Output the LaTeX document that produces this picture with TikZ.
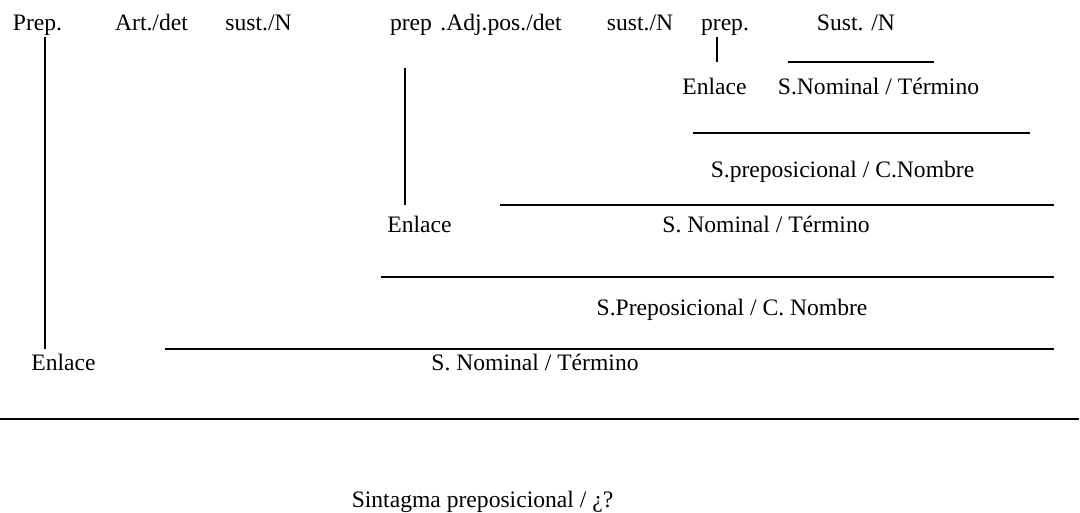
\documentclass[tikz,border=0pt]{standalone}
\usepackage{fontspec}
\setmainfont{Liberation Serif}
\begin{document}
\begin{tikzpicture}[x=0.5pt,y=-0.5pt,
  txt/.style={inner sep=0pt, anchor=base, font=\fontsize{11.8}{14}\selectfont},
  ln/.style={line width=1pt}]
\useasboundingbox (0,0) rectangle (1080,513);
% row 1
\node[txt] (prepA) at (37.5,31) {Prep.};
\node[txt] (art)   at (151.5,31) {Art./det};
\node[txt] (sustA) at (258.5,31) {sust./N};
\node[txt] (prepB) at (411,31) {prep};
\node[txt, anchor=base west] (adj) at (440,31) {.Adj.pos./det};
\node[txt] (sustB) at (640,31) {sust./N};
\node[txt] (prepC) at (725,31) {prep.};
\node[txt] (sustC) at (856,31) {Sust. /N};
% row 2
\node[txt] (enlC) at (714.5,95) {Enlace};
\node[txt] (snC)  at (878.5,95) {S.Nominal / Término};
% row 3
\node[txt] (spB) at (842.5,178) {S.preposicional / C.Nombre};
% row 4
\node[txt] (enlB) at (419.5,233) {Enlace};
\node[txt] (snB)  at (766,233) {S. Nominal / Término};
% row 5
\node[txt] (spA) at (732,315) {S.Preposicional / C. Nombre};
% row 6
\node[txt] (enlA) at (63.5,370) {Enlace};
\node[txt] (snA)  at (535,370) {S. Nominal / Término};
% row 7
\node[txt] (sp0) at (482.5,507) {Sintagma preposicional / ¿?};
% line ends
\coordinate (v1t) at (45,37);   \coordinate (v1b) at (45,349);
\coordinate (v2t) at (405,68);  \coordinate (v2b) at (405,205);
\coordinate (v3t) at (717,37);  \coordinate (v3b) at (717,62);
\coordinate (h1a) at (788,62);  \coordinate (h1b) at (934,62);
\coordinate (h2a) at (693,133); \coordinate (h2b) at (1030,133);
\coordinate (h3a) at (500,205); \coordinate (h3b) at (1054,205);
\coordinate (h4a) at (381,277); \coordinate (h4b) at (1054,277);
\coordinate (h5a) at (165,349); \coordinate (h5b) at (1054,349);
\coordinate (h6a) at (0,419);   \coordinate (h6b) at (1079,419);
\draw[ln] (v1t) -- (v1b);
\draw[ln] (v2t) -- (v2b);
\draw[ln] (v3t) -- (v3b);
\draw[ln] (h1a) -- (h1b);
\draw[ln] (h2a) -- (h2b);
\draw[ln] (h3a) -- (h3b);
\draw[ln] (h4a) -- (h4b);
\draw[ln] (h5a) -- (h5b);
\draw[ln] (h6a) -- (h6b);
\end{tikzpicture}
\end{document}
